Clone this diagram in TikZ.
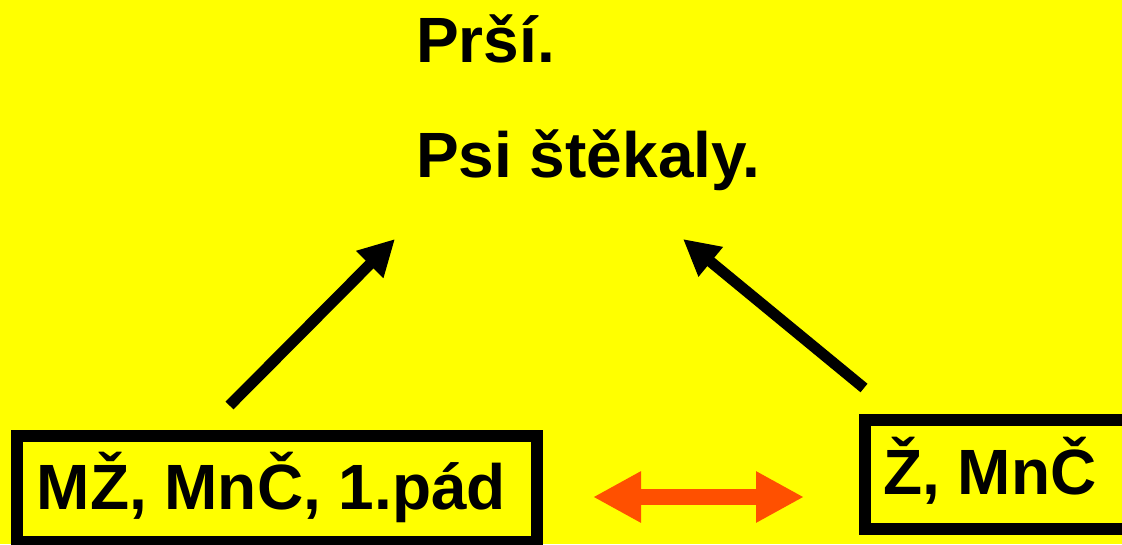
\documentclass[tikz,border=0pt]{standalone}
\usepackage{fontspec}
\setmainfont{Liberation Sans}
\usetikzlibrary{arrows.meta}
\definecolor{bgyellow}{RGB}{255,255,0}
\definecolor{arroworange}{RGB}{255,80,0}
\tikzset{
  bigtext/.style={anchor=base west, inner sep=0pt, font=\fontsize{64}{70}\selectfont\bfseries},
  framebox/.style={draw=black, line width=12pt, rectangle, inner sep=0pt},
  blackarrow/.style={draw=black, line width=11pt, -{Triangle[length=36pt,width=36pt]}},
  orangearrow/.style={draw=arroworange, line width=16pt, {Triangle[length=48pt,width=48pt]}-{Triangle[length=48pt,width=48pt]}}
}
\begin{document}
\begin{tikzpicture}[x=1pt,y=-1pt]
\fill[bgyellow] (0,0) rectangle (1122,544);
\useasboundingbox (0,0) rectangle (1122,544);
% frames
\node[framebox, minimum width=520pt, minimum height=106pt] (lbox) at (277,489) {};
\node[framebox, minimum width=266pt, minimum height=108.5pt] (rbox) at (997.5,474.25) {};
% texts
\node[bigtext] (t1) at (416,62.5) {Prší.};
\node[bigtext] (t2) at (416,177) {Psi štěkaly.};
\node[bigtext] (ltext) at (36.5,509) {MŽ, MnČ, 1.pád};
\node[bigtext] (rtext) at (883,494) {Ž, MnČ};
% arrow end points
\coordinate (la) at (229.5,405.5);
\coordinate (lb) at (395,239);
\coordinate (ra) at (864,388);
\coordinate (rb) at (683,239);
\coordinate (oa) at (593,497);
\coordinate (ob) at (804,497);
\draw[blackarrow] (la) -- (lb);
\draw[blackarrow] (ra) -- (rb);
\draw[orangearrow] (oa) -- (ob);
\end{tikzpicture}
\end{document}
